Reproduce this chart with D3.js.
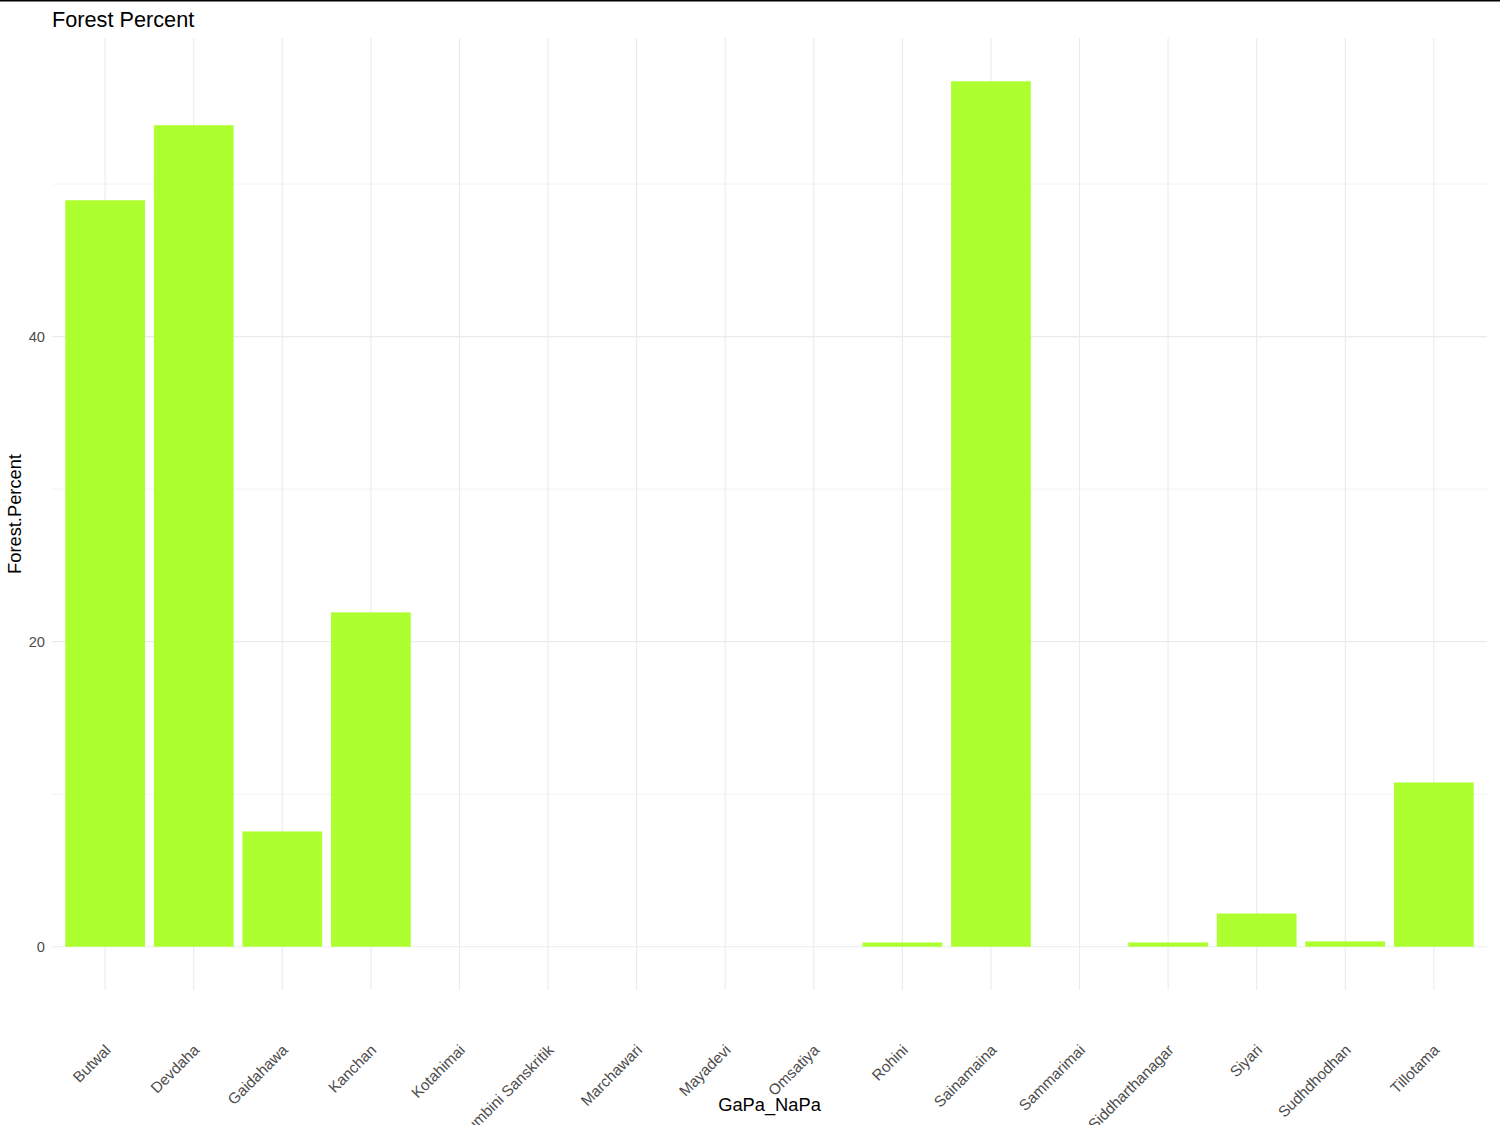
<!DOCTYPE html>
<html>
<head>
<meta charset="utf-8">
<script src="https://cdn.jsdelivr.net/npm/d3@7"></script>
<style>
  html, body { margin: 0; padding: 0; background: #ffffff; }
  svg { display: block; font-family: "Liberation Sans", Arial, sans-serif; }
</style>
</head>
<body>
<svg id="chart" width="1500" height="1125"></svg>
<script>
const categories = ["Butwal", "Devdaha", "Gaidahawa", "Kanchan", "Kotahimai", "Lumbini Sanskritik",
  "Marchawari", "Mayadevi", "Omsatiya", "Rohini", "Sainamaina", "Sammarimai",
  "Siddharthanagar", "Siyari", "Sudhdhodhan", "Tillotama"];
const forestPercent = [48.94, 53.86, 7.56, 21.92, 0, 0, 0, 0, 0, 0.28, 56.74, 0, 0.28, 2.18, 0.35, 10.77];
const majorTicks = [0, 20, 40];
const minorTicks = [10, 30, 50];

const W = 1500, H = 1125;
const panel = { left: 52, right: 1487, top: 38, bottom: 990 };
const svg = d3.select("#chart");

// top border line
svg.append("line").attr("x1", 0).attr("x2", W).attr("y1", 0.75).attr("y2", 0.75)
  .attr("stroke", "#000").attr("stroke-width", 1.5);

const x = d3.scalePoint().domain(categories).range([panel.left, panel.right]).padding(0.6);
const step = x.step();
const barW = step * 0.9;

const maxV = d3.max(forestPercent);
const pad = maxV * 0.05;
const y = d3.scaleLinear().domain([-pad, maxV + pad]).range([panel.bottom, panel.top]);

const grid = svg.append("g");
// minor horizontal
grid.selectAll("line.minor").data(minorTicks).enter().append("line")
  .attr("x1", panel.left).attr("x2", panel.right)
  .attr("y1", d => y(d)).attr("y2", d => y(d))
  .attr("stroke", "#ebebeb").attr("stroke-width", 0.6);
// major horizontal
grid.selectAll("line.major").data(majorTicks).enter().append("line")
  .attr("x1", panel.left).attr("x2", panel.right)
  .attr("y1", d => y(d)).attr("y2", d => y(d))
  .attr("stroke", "#ebebeb").attr("stroke-width", 1.1);
// vertical
grid.selectAll("line.v").data(categories).enter().append("line")
  .attr("x1", d => x(d)).attr("x2", d => x(d))
  .attr("y1", panel.top).attr("y2", panel.bottom)
  .attr("stroke", "#ebebeb").attr("stroke-width", 1.1);

// bars
svg.append("g").selectAll("rect").data(categories).enter().append("rect")
  .attr("x", d => x(d) - barW / 2)
  .attr("width", barW)
  .attr("y", (d, i) => y(forestPercent[i]))
  .attr("height", (d, i) => y(0) - y(forestPercent[i]))
  .attr("fill", "#ADFF2F");

// y tick labels
svg.append("g").selectAll("text").data(majorTicks).enter().append("text")
  .attr("x", 45).attr("y", d => y(d)).attr("dy", "0.36em")
  .attr("text-anchor", "end").attr("font-size", 14.7).attr("fill", "#4d4d4d")
  .text(d => d);

// x tick labels
svg.append("g").selectAll("text").data(categories).enter().append("text")
  .attr("transform", d => `translate(${x(d) + 6.5},${1051}) rotate(-45)`)
  .attr("text-anchor", "end").attr("font-size", 15.3).attr("fill", "#4d4d4d")
  .text(d => d);

// axis titles
svg.append("text").attr("x", (panel.left + panel.right) / 2).attr("y", 1111)
  .attr("text-anchor", "middle").attr("font-size", 18.3).attr("fill", "#000")
  .text("GaPa_NaPa");
svg.append("text").attr("transform", `translate(21,${(panel.top + panel.bottom) / 2}) rotate(-90)`)
  .attr("text-anchor", "middle").attr("font-size", 18.3).attr("fill", "#000")
  .text("Forest.Percent");

// title
svg.append("text").attr("x", 52).attr("y", 27)
  .attr("font-size", 21.7).attr("fill", "#000")
  .text("Forest Percent");
</script>
</body>
</html>
